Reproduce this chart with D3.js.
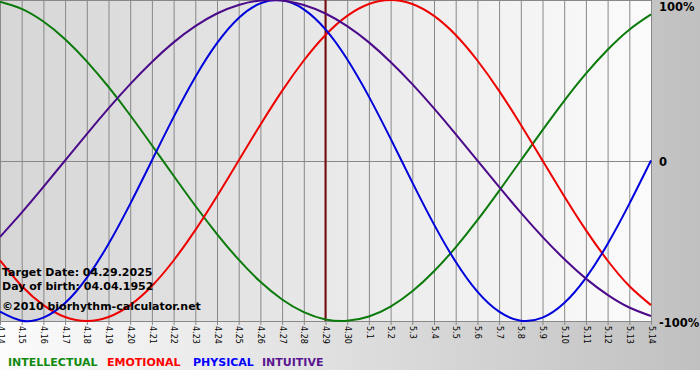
<!DOCTYPE html>
<html>
<head>
<meta charset="utf-8">
<script src="https://cdn.jsdelivr.net/npm/d3@7"></script>
<style>
  body { margin: 0; background: #fff; }
  svg { display: block; font-family: "DejaVu Sans", Verdana, sans-serif; }
</style>
</head>
<body>
<figure style="margin:0"></figure>
<script>
const days = ["4.14","4.15","4.16","4.17","4.18","4.19","4.20","4.21","4.22","4.23","4.24","4.25","4.26","4.27","4.28","4.29","4.30",
    "5.1","5.2","5.3","5.4","5.5","5.6","5.7","5.8","5.9","5.10","5.11","5.12","5.13","5.14"]
const intellectual = [99,94.5,86.6,75.6,61.8,45.8,28.2,9.5,-9.5,-28.2,-45.8,-61.8,-75.6,-86.6,-94.5,-99,-99.9,-97.2,-91,-81.5,-69,-54.1,-37.2,-18.9,0,18.9,37.2,54.1,69,81.5,91]
const emotional = [-62.3,-78.2,-90.1,-97.5,-100,-97.5,-90.1,-78.2,-62.3,-43.4,-22.3,0,22.3,43.4,62.3,78.2,90.1,97.5,100,97.5,90.1,78.2,62.3,43.4,22.3,0,-22.3,-43.4,-62.3,-78.2,-90.1]
const physical = [-94.2,-99.8,-97.9,-88.8,-73.1,-52,-27,0,27,52,73.1,88.8,97.9,99.8,94.2,81.7,63.1,39.8,13.6,-13.6,-39.8,-63.1,-81.7,-94.2,-99.8,-97.9,-88.8,-73.1,-52,-27,0]
const intuitive = [-47.6,-32.5,-16.5,0,16.5,32.5,47.6,61.4,73.6,83.7,91.6,96.9,99.7,99.7,96.9,91.6,83.7,73.6,61.4,47.6,32.5,16.5,0,-16.5,-32.5,-47.6,-61.4,-73.6,-83.7,-91.6,-96.9]
const targetDay = "4.29"
const yTicks = [100, 0, -100]
const yTickLabels = ["100%", "0", "-100%"]
const infoLines = ["Target Date: 04.29.2025", "Day of birth: 04.04.1952", "\u00a92010 biorhythm-calculator.net"]
const seriesNames = ["INTELLECTUAL", "EMOTIONAL", "PHYSICAL", "INTUITIVE"]

const colors = ["#0a7a0a", "#ee0000", "#0000dd", "#4b0a8a"]
const legendColors = ["#118a11", "#ff0000", "#0000ff", "#5a1490"]
const series = [intellectual, emotional, physical, intuitive]

const W = 700, H = 380,
    plotW = 651, plotH = 321

const svg = d3.select("figure").append("svg")
    .attr("width", W).attr("height", H).attr("viewBox", `0 0 ${W} ${H}`)

const defs = svg.append("defs")
const outerGrad = defs.append("linearGradient").attr("id", "outerGrad")
outerGrad.append("stop").attr("offset", "0%").attr("stop-color", "#fcfcfc")
outerGrad.append("stop").attr("offset", "100%").attr("stop-color", "#c0c0c0")
const plotGrad = defs.append("linearGradient").attr("id", "plotGrad")
plotGrad.append("stop").attr("offset", "0%").attr("stop-color", "#d6d6d6")
plotGrad.append("stop").attr("offset", "100%").attr("stop-color", "#fbfbfb")

svg.append("rect").attr("width", W).attr("height", 370).attr("fill", "url(#outerGrad)")
svg.append("rect").attr("width", plotW).attr("height", plotH).attr("fill", "url(#plotGrad)")

const x = d3.scalePoint().domain(days).range([0, plotW]),
    y = d3.scaleLinear().domain([-100, 100]).range([plotH, 0])

// vertical day grid, runs a little under the plot as tick marks
svg.append("g")
    .selectAll("line")
    .data(days)
    .enter()
    .append("line")
        .attr("x1", d => x(d) + 0.5).attr("x2", d => x(d) + 0.5)
        .attr("y1", 0).attr("y2", plotH + 4)
        .attr("stroke", "#888").attr("stroke-width", 1)

svg.append("g")
    .selectAll("line")
    .data(yTicks)
    .enter()
    .append("line")
        .attr("x1", 0).attr("x2", plotW)
        .attr("y1", d => Math.round(y(d)) + 0.5).attr("y2", d => Math.round(y(d)) + 0.5)
        .attr("stroke", "#888")

svg.append("line")
    .attr("x1", x(targetDay)).attr("x2", x(targetDay))
    .attr("y1", 0).attr("y2", plotH)
    .attr("stroke", "#7a0a0a").attr("stroke-width", 2)

const line = d3.line()
    .x((_, i) => x(days[i]))
    .y(d => y(d))
    .curve(d3.curveNatural)

svg.append("g")
    .selectAll("path")
    .data(series)
    .enter()
    .append("path")
        .attr("d", d => line(d))
        .attr("fill", "none")
        .attr("stroke", (_, i) => colors[i])
        .attr("stroke-width", 2)

// day labels, rotated
svg.append("g")
    .selectAll("text")
    .data(days)
    .enter()
    .append("text")
        .text(d => d)
        .attr("transform", d => `translate(${x(d) + 0.5},${plotH + 5}) rotate(90)`)
        .attr("dy", "0.35em")
        .style("font-size", "8px")

svg.append("g")
    .selectAll("text")
    .data(yTicks)
    .enter()
    .append("text")
        .text((_, i) => yTickLabels[i])
        .attr("x", 659)
        .attr("y", d => Math.max(y(d) + 5.5, 11))
        .style("font-size", "11.5px")
        .style("font-weight", "bold")

svg.append("g")
    .selectAll("text")
    .data(infoLines)
    .enter()
    .append("text")
        .text(d => d)
        .attr("x", 2)
        .attr("y", (_, i) => [276, 290, 310][i])
        .style("font-size", "11px")
        .style("font-weight", "bold")

const legendX = [8, 107, 193, 262]
svg.append("g")
    .selectAll("text")
    .data(seriesNames)
    .enter()
    .append("text")
        .text(d => d)
        .attr("x", (_, i) => legendX[i])
        .attr("y", 366)
        .attr("fill", (_, i) => legendColors[i])
        .style("font-size", "11px")
        .style("font-weight", "bold")
</script>
</body>
</html>
